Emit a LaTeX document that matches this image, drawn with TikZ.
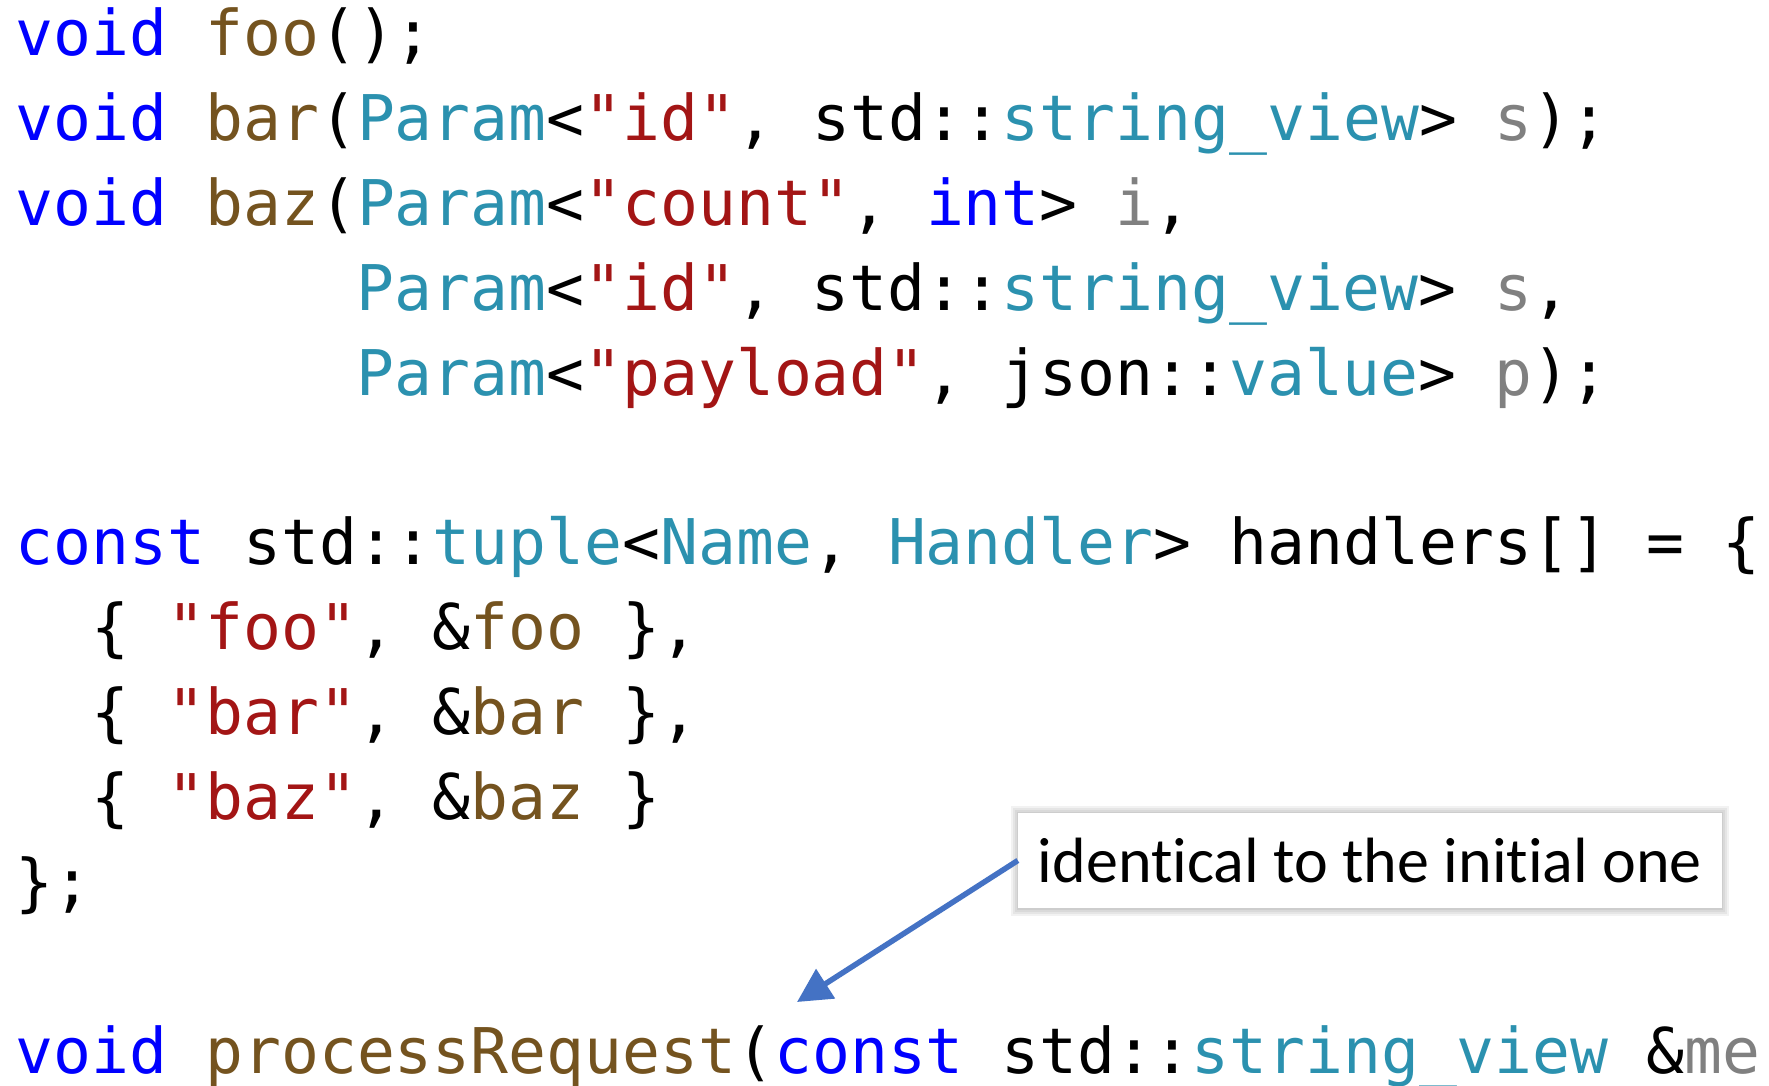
\documentclass[tikz,border=0pt]{standalone}
\usepackage{fontspec}
\setmonofont{DejaVu Sans Mono}
\newfontfamily\calloutfont[Ligatures=NoCommon]{Carlito}
\usetikzlibrary{arrows.meta,backgrounds}
\definecolor{ckwcol}{RGB}{0,0,255}
\definecolor{cfncol}{RGB}{116,83,31}
\definecolor{ctycol}{RGB}{43,145,175}
\definecolor{cstcol}{RGB}{163,21,21}
\definecolor{cpacol}{RGB}{128,128,128}
\definecolor{arrowcol}{RGB}{68,114,196}
\newcommand{\ckw}[1]{\textcolor{ckwcol}{#1}}
\newcommand{\cfn}[1]{\textcolor{cfncol}{#1}}
\newcommand{\cty}[1]{\textcolor{ctycol}{#1}}
\newcommand{\cst}[1]{\textcolor{cstcol}{#1}}
\newcommand{\cpa}[1]{\textcolor{cpacol}{#1}}
\begin{document}
\begin{tikzpicture}[x=1pt,y=-1pt,
  codeline/.style={anchor=base west, inner sep=0pt, font=\ttfamily\fontsize{63}{85}\selectfont},
  callout/.style={fill=white, minimum width=704pt, minimum height=95pt, inner sep=0pt,
    font=\calloutfont\fontsize{64}{70}\selectfont},
  pointer/.style={draw=arrowcol, line width=5.5pt, -{Triangle[length=34pt,width=34pt]}}]
\begin{scope}[on background layer]
  \fill[white] (0,0) rectangle (1769,1086);
\end{scope}
\useasboundingbox (0,0) rectangle (1769,1086);

\node[codeline] (l1) at (15.5,56) {\ckw{void} \cfn{foo}();};
\node[codeline] (l2) at (15.5,140.8) {\ckw{void} \cfn{bar}(\cty{Param}<\cst{"id"}, std::\cty{string\_view}> \cpa{s});};
\node[codeline] (l3) at (15.5,225.6) {\ckw{void} \cfn{baz}(\cty{Param}<\cst{"count"}, \ckw{int}> \cpa{i},};
\node[codeline] (l4) at (356.6,310.4) {\cty{Param}<\cst{"id"}, std::\cty{string\_view}> \cpa{s},};
\node[codeline] (l5) at (356.6,395.2) {\cty{Param}<\cst{"payload"}, json::\cty{value}> \cpa{p});};
\node[codeline] (l7) at (15.5,564.8) {\ckw{const} std::\cty{tuple}<\cty{Name}, \cty{Handler}> handlers[] = \{};
\node[codeline] (l8) at (91.3,649.6) {\{ \cst{"foo"}, \&\cfn{foo} \},};
\node[codeline] (l9) at (91.3,734.4) {\{ \cst{"bar"}, \&\cfn{bar} \},};
\node[codeline] (l10) at (91.3,819.2) {\{ \cst{"baz"}, \&\cfn{baz} \}};
\node[codeline] (l11) at (15.5,904) {\};};
\node[codeline] (l13) at (15.5,1073.6) {\ckw{void} \cfn{processRequest}(\ckw{const} std::\cty{string\_view} \&\cpa{me}};

\node[callout] (note) at (1370,860.5) {identical to the initial one};
\begin{scope}[on background layer]
  \foreach \g in {1,3,5,7} {
    \fill[black, opacity=0.05] ([xshift=-\g pt, yshift=\g pt]note.north west) rectangle ([xshift=\g pt, yshift=-\g pt-1pt]note.south east);
  }
\end{scope}
\coordinate (tip) at (797,1002);
\draw[pointer] (note.west) -- (tip);
\end{tikzpicture}
\end{document}
